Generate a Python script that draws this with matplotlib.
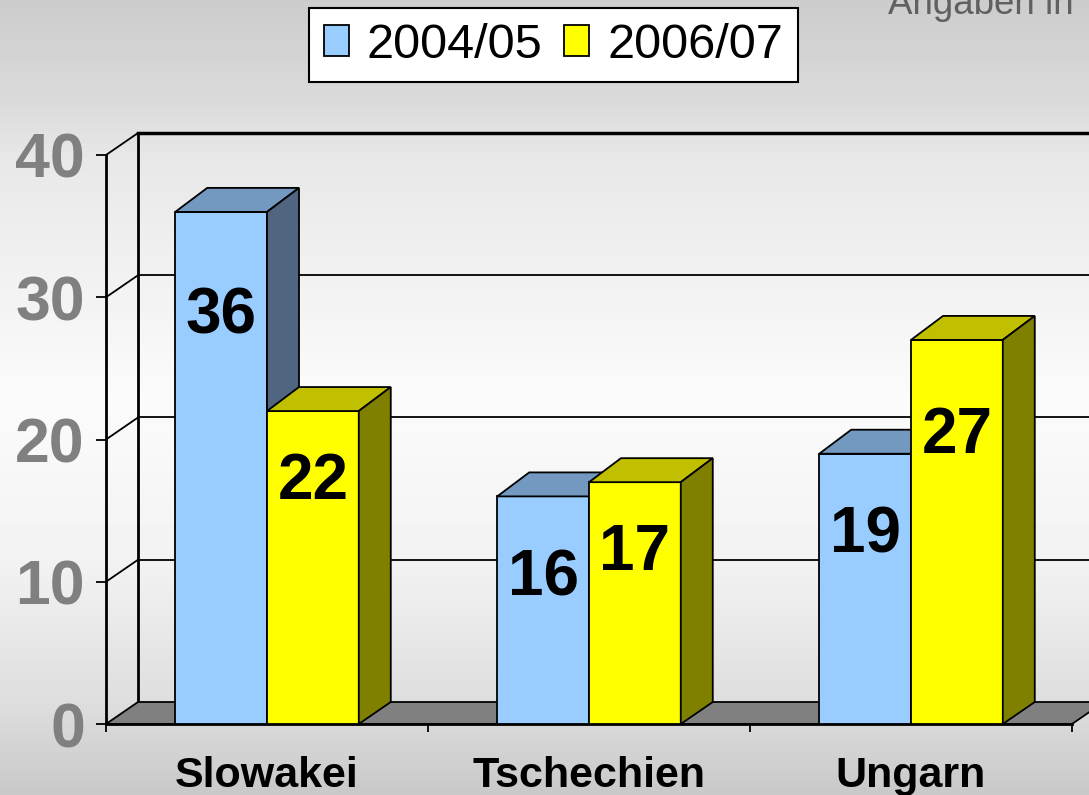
import numpy as np
import matplotlib.pyplot as plt
from matplotlib.patches import Polygon

plt.rcParams['font.family'] = ['Liberation Sans', 'DejaVu Sans']

# data
countries = ['Slowakei', 'Tschechien', 'Ungarn']
series = ['2004/05', '2006/07']
values_0405 = [36, 16, 19]
values_0607 = [22, 17, 27]
y_ticks = [0, 10, 20, 30, 40]

# where the value labels sit, relative to the bar top (value units)
label_shift_0405 = [-6.9, -5.3, -5.3]
label_shift_0607 = [-4.5, -4.5, -6.3]

front_colors = ['#99ccff', '#ffff00']
top_colors = ['#7399c0', '#c0c000']
side_colors = ['#4f6580', '#808000']

W, H = 1089, 795
fig = plt.figure(figsize=(W / 100, H / 100), dpi=100)

# grey background gradient over the whole slide
bg = fig.add_axes([0, 0, 1, 1], zorder=-10)
stops_y = [0, 100, 160, 400, 560, 700, 795]
stops_c = [0xcc, 0xda, 0xe8, 0xfb, 0xf2, 0xde, 0xc8]
rows = np.interp(np.arange(H), stops_y, stops_c) / 255
bg.imshow(np.repeat(rows[:, None], 2, axis=1), cmap='gray', vmin=0, vmax=1,
          aspect='auto', extent=[0, 1, 0, 1])
bg.axis('off')

# front plane of the 3d chart
ax = fig.add_axes([106 / W, 71 / H, 966 / W, 569 / H])
n = len(countries)
ax.set_xlim(0, n)
ax.set_ylim(0, 40)
ax.patch.set_visible(False)

# depth offsets of the fake 3d, from pixels to data units
px_x = n / 966
px_y = 40 / 569
DX = 32 * px_x
DYW = 22 * px_y   # walls / floor
DYB = 24 * px_y   # bar tops

# back wall and left wall
for t in y_ticks[1:]:
    lw = 2.5 if t == y_ticks[-1] else 1.3
    ax.plot([0, DX], [t, t + DYW], color='k', lw=1.3, clip_on=False, zorder=1)
    ax.plot([DX, n + DX + 0.2], [t + DYW] * 2, color='k', lw=lw, clip_on=False, zorder=1)
ax.plot([DX, DX], [DYW, y_ticks[-1] + DYW], color='k', lw=2, clip_on=False, zorder=1)

# floor
floor = Polygon([(0, 0), (n, 0), (n + DX, DYW), (DX, DYW)], closed=True,
                facecolor='#808080', edgecolor='k', lw=1.3, clip_on=False, zorder=2)
ax.add_patch(floor)

# bars
bw = 0.285
centers = np.arange(n) + 0.5
handles = []
for s, (vals, shifts) in enumerate([(values_0405, label_shift_0405),
                                    (values_0607, label_shift_0607)]):
    xs = centers - bw + s * bw
    bars = ax.bar(xs, vals, bw, align='edge', color=front_colors[s], edgecolor='k',
                  lw=1.3, label=series[s], clip_on=False)
    handles.append(bars)
    for i, p in enumerate(bars):
        z = 3 + 3 * i + s
        p.set_zorder(z)
        x0 = xs[i]
        x1 = x0 + bw
        v = vals[i]
        top = Polygon([(x0, v), (x0 + DX, v + DYB), (x1 + DX, v + DYB), (x1, v)],
                      closed=True, facecolor=top_colors[s], edgecolor='k', lw=1.3,
                      clip_on=False, zorder=z + 0.1)
        side = Polygon([(x1, 0), (x1 + DX, DYW), (x1 + DX, v + DYB), (x1, v)],
                       closed=True, facecolor=side_colors[s], edgecolor='k', lw=1.3,
                       clip_on=False, zorder=z + 0.1)
        ax.add_patch(top)
        ax.add_patch(side)
        ax.annotate(str(v), (x0 + bw / 2, v + shifts[i]), xytext=(0, -17),
                    textcoords='offset points', ha='center', va='baseline',
                    fontsize=46, fontweight='bold', color='k', zorder=z + 0.5)

# axes
for side_name in ['top', 'right']:
    ax.spines[side_name].set_visible(False)
for side_name in ['left', 'bottom']:
    ax.spines[side_name].set_linewidth(2)
    ax.spines[side_name].set_zorder(2.5)

ax.set_yticks(y_ticks)
ax.tick_params(axis='y', length=7.2, width=1.3, pad=8, labelsize=45, labelcolor='#808080')
for lab in ax.get_yticklabels():
    lab.set_fontweight('bold')

ax.set_xticks(np.arange(n + 1))
ax.set_xticklabels([])
ax.set_xticks(centers, minor=True)
ax.set_xticklabels(countries, minor=True, fontsize=31, fontweight='bold')
ax.tick_params(axis='x', which='major', length=5.8, width=1.3)
ax.tick_params(axis='x', which='minor', length=0, pad=23)

leg = ax.legend(handles=handles, loc='upper center', bbox_to_anchor=(553.5 / W, 1 - 8 / H),
                bbox_transform=fig.transFigure, ncol=2, fontsize=35, frameon=True,
                fancybox=False, edgecolor='k', framealpha=1, borderpad=0.3,
                handlelength=0.52, handleheight=0.58, handletextpad=0.37,
                columnspacing=0.44, borderaxespad=0)
leg.get_frame().set_linewidth(1.5)

# note in the corner, cut by the top edge as on the slide
fig.text(888 / W, 1 - 14 / H, 'Angaben in', fontsize=26.5, color='#606060',
         ha='left', va='baseline')

fig.savefig('out.png', dpi=100)
